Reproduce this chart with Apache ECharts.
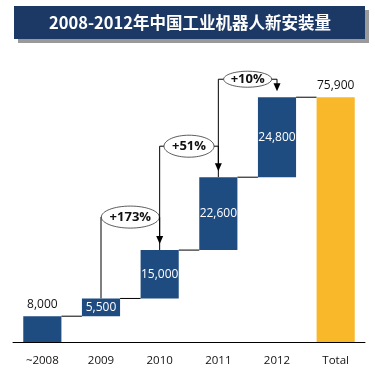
<!DOCTYPE html>
<html><head><meta charset="utf-8">
<script src="https://cdn.jsdelivr.net/npm/echarts@6/dist/echarts.min.js"></script>
<style>html,body{margin:0;padding:0;background:#fff}#c{width:375px;height:372px}</style>
</head><body><div id="c"></div>
<script>
const titleText = '2008-2012年中国工业机器人新安装量';
const categories = ['~2008', '2009', '2010', '2011', '2012', 'Total'];
const increments = [8000, 5500, 15000, 22600, 24800, 75900];
const growthLabels = ['+173%', '+51%', '+10%'];

const NAVY = '#1F4C80', GOLD = '#F9B82A', FONT = '"Open Sans", "Liberation Sans", sans-serif';
const bases = increments.map((v, i) => (i === 0 || i === increments.length - 1) ? 0 : increments.slice(0, i).reduce((a, b) => a + b, 0));
const tops = increments.map((v, i) => bases[i] + v);
const lastIdx = categories.length - 1;

const chart = echarts.init(document.getElementById('c'), null, {renderer: 'canvas'});
chart.setOption({
  animation: false,
  grid: {left: 13, right: 10, top: 84, bottom: 30},
  xAxis: {
    type: 'category', data: categories,
    axisLine: {lineStyle: {color: '#000', width: 1}},
    axisTick: {show: false},
    axisLabel: {color: '#111', fontSize: 11.5, fontFamily: FONT, margin: 13}
  },
  yAxis: {type: 'value', min: 0, max: 80000, show: false, splitLine: {show: false}},
  series: [
    {type: 'bar', stack: 'w', data: bases, itemStyle: {color: 'transparent'}, barWidth: '65%', silent: true},
    {type: 'bar', stack: 'w', barWidth: '65%',
      data: increments.map((v, i) => ({
        value: v,
        itemStyle: {color: i === lastIdx ? GOLD : NAVY},
        label: (i === 0 || i === lastIdx)
          ? {show: true, position: 'top', color: '#111', distance: 6}
          : {show: true, position: 'inside', color: '#fff'}
      })),
      label: {fontSize: 12, fontFamily: FONT, formatter: p => p.value.toLocaleString('en-US')}
    }
  ]
});

function px(i, v) { return chart.convertToPixel({gridIndex: 0}, [i, v]); }
const band = px(1, 0)[0] - px(0, 0)[0];
const hw = band * 0.65 / 2;
const g = [];
// title
g.push({type: 'rect', shape: {x: 18, y: 10, width: 351, height: 33}, style: {fill: '#9a9a9a'}});
g.push({type: 'rect', shape: {x: 14, y: 6, width: 351, height: 33}, style: {fill: '#1C3966'}});
g.push({type: 'text', x: 190, y: 23, style: {
  text: titleText, fill: '#fff', align: 'center', verticalAlign: 'middle',
  font: 'bold 16.5px "Noto Sans CJK SC", sans-serif'}});
// connectors
for (let i = 0; i < lastIdx; i++) {
  const a = px(i, tops[i]), b = px(i + 1, tops[i]);
  g.push({type: 'line', shape: {x1: a[0] + hw, y1: a[1], x2: b[0] - hw, y2: b[1]}, style: {stroke: '#000', lineWidth: 1}});
}
// growth brackets
const offs = [33, 31, 18], rxs = [29, 25, 24], rys = [11, 11, 8];
growthLabels.forEach((lab, k) => {
  const p = k + 1, n = k + 2;
  const pTop = px(p, tops[p]), nTop = px(n, tops[n]);
  const ey = nTop[1] - offs[k];
  const cx = (pTop[0] + nTop[0]) / 2;
  const rx = rxs[k], ry = rys[k];
  g.push({type: 'polyline', shape: {points: [[pTop[0], pTop[1]], [pTop[0], ey], [cx - rx + 3, ey]]}, style: {stroke: '#000', lineWidth: 1, fill: null}});
  const tipY = nTop[1] - 6;
  g.push({type: 'polyline', shape: {points: [[cx + rx - 3, ey], [nTop[0], ey], [nTop[0], tipY - 7]]}, style: {stroke: '#000', lineWidth: 1, fill: null}});
  g.push({type: 'polygon', shape: {points: [[nTop[0] - 3.5, tipY - 8], [nTop[0] + 3.5, tipY - 8], [nTop[0], tipY]]}, style: {fill: '#000'}});
  g.push({type: 'ellipse', shape: {cx: cx, cy: ey, rx: rx, ry: ry}, style: {fill: '#fff', stroke: '#333', lineWidth: 0.8}});
  g.push({type: 'text', x: cx, y: ey, style: {text: lab, fill: '#111', align: 'center', verticalAlign: 'middle', font: 'bold 13px ' + FONT}});
});
chart.setOption({graphic: g});
</script></body></html>
